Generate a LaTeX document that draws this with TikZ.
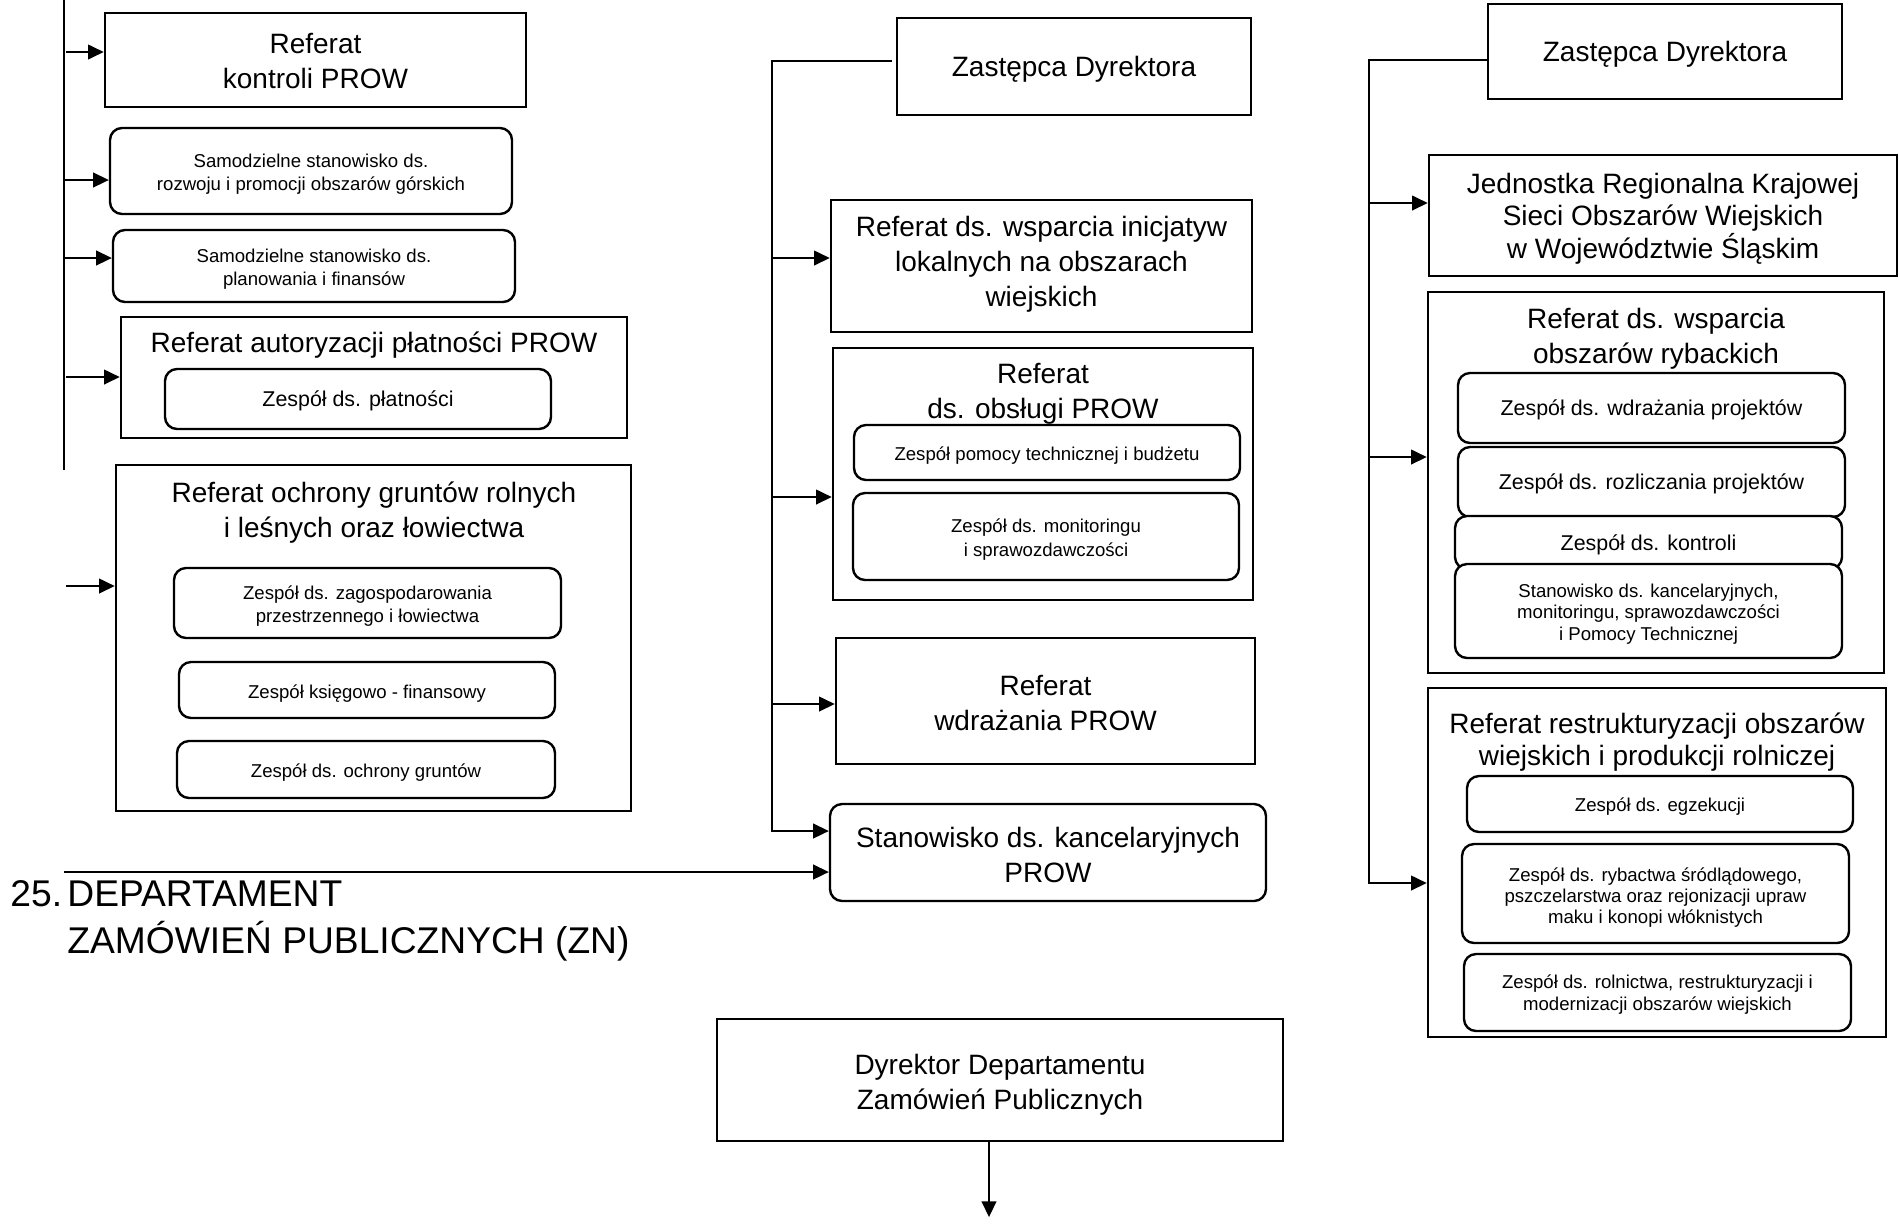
\documentclass[tikz,border=0pt]{standalone}
\usepackage{fontspec}
\setmainfont{Liberation Sans}
\usetikzlibrary{arrows.meta}
\newcommand\szB{\fontsize{14}{17.5}\selectfont}
\newcommand\szJ{\fontsize{14}{16.2}\selectfont}
\newcommand\szS{\fontsize{9.3}{11.6}\selectfont}
\newcommand\szR{\fontsize{9.3}{10.7}\selectfont}
\newcommand\szM{\fontsize{10.7}{13}\selectfont}
\newcommand\szH{\fontsize{18.6}{23.5}\selectfont}
% \bx{name}{x1}{y1}{x2}{y2}{box style}{font}{text shift down, px}{text}
\newcommand\bx[9]{%
  \node[#6, minimum width={(#4-#2)*0.5pt}, minimum height={(#5-#3)*0.5pt}] (#1) at ({(#2+#4)/2},{(#3+#5)/2}) {};
  \node[font=#7, align=center, inner sep=0pt] (#1-t) at ([yshift={-(#8)*0.5pt}]#1.center) {#9};}
\tikzset{
  sq/.style={draw, line width=1.3pt, rectangle, inner sep=0pt, fill=white},
  rd/.style={draw, line width=1.2pt, rounded corners=6pt, inner sep=0pt, fill=white},
  ttl/.style={align=center, inner sep=0pt, font=\szB},
  ln/.style={line width=0.6pt},
  arr/.style={line width=0.6pt, -{Triangle[length=7.8pt,width=7.4pt]}}
}
\begin{document}
\begin{tikzpicture}[x=0.5pt,y=-0.5pt]
\useasboundingbox (0,0) rectangle (1899,1223);

% ---------- left column ----------
\bx{kon}{105}{13}{526}{107}{sq}{\szB}{1}{Referat\\kontroli PROW}
\bx{sam1}{110}{128}{512}{214}{rd}{\szS}{3}{Samodzielne stanowisko ds.\\rozwoju i promocji obszarów górskich}
\bx{sam2}{113}{230}{515}{302}{rd}{\szS}{3}{Samodzielne stanowisko ds.\\planowania i finansów}
\bx{aut}{121}{317}{627}{438}{sq}{\szB}{0}{}
\node[ttl] (autT) at (374,345) {Referat autoryzacji płatności PROW};
\bx{pla}{165}{369}{551}{429}{rd}{\szM}{2}{Zespół ds. płatności}
\bx{och}{116}{465}{631}{811}{sq}{\szB}{0}{}
\node[ttl] (ochT) at (374,513) {Referat ochrony gruntów rolnych\\i leśnych oraz łowiectwa};
\bx{zag}{174}{568}{561}{638}{rd}{\szS}{3}{Zespół ds. zagospodarowania\\przestrzennego i łowiectwa}
\bx{ksi}{179}{662}{555}{718}{rd}{\szS}{4}{Zespół księgowo - finansowy}
\bx{ogr}{177}{741}{555}{798}{rd}{\szS}{3}{Zespół ds. ochrony gruntów}

% ---------- middle column ----------
\bx{zm}{897}{18}{1251}{115}{sq}{\szB}{3}{Zastępca Dyrektora}
\bx{ini}{831}{200}{1252}{332}{sq}{\szB}{-2}{Referat ds. wsparcia inicjatyw\\lokalnych na obszarach\\wiejskich}
\bx{obs}{833}{348}{1253}{600}{sq}{\szB}{0}{}
\node[ttl] (obsT) at (1043,394) {Referat\\ds. obsługi PROW};
\bx{pom}{854}{425}{1240}{480}{rd}{\szS}{3}{Zespół pomocy technicznej i budżetu}
\bx{mon}{853}{493}{1239}{580}{rd}{\szS}{3}{Zespół ds. monitoringu\\i sprawozdawczości}
\bx{wdr}{836}{638}{1255}{764}{sq}{\szB}{2}{Referat\\wdrażania PROW}
\bx{stk}{830}{804}{1266}{901}{rd}{\szB}{2}{Stanowisko ds. kancelaryjnych\\PROW}

% ---------- right column ----------
\bx{zr}{1488}{4}{1842}{99}{sq}{\szB}{3}{Zastępca Dyrektora}
\bx{jed}{1429}{155}{1897}{276}{sq}{\szJ}{3}{Jednostka Regionalna Krajowej\\Sieci Obszarów Wiejskich\\w Województwie Śląskim}
\bx{ryb}{1428}{292}{1884}{673}{sq}{\szB}{0}{}
\node[ttl] (rybT) at (1656,339) {Referat ds. wsparcia\\obszarów rybackich};
\bx{wpr}{1458}{373}{1845}{443}{rd}{\szM}{2}{Zespół ds. wdrażania projektów}
\bx{roz}{1458}{447}{1845}{517}{rd}{\szM}{2}{Zespół ds. rozliczania projektów}
\bx{kro}{1455}{516}{1842}{569}{rd}{\szM}{2}{Zespół ds. kontroli}
\bx{skm}{1455}{564}{1842}{658}{rd}{\szR}{3}{Stanowisko ds. kancelaryjnych,\\monitoringu, sprawozdawczości\\i Pomocy Technicznej}
\bx{res}{1428}{688}{1886}{1037}{sq}{\szB}{0}{}
\node[ttl,font=\szJ] (resT) at (1657,742) {Referat restrukturyzacji obszarów\\wiejskich i produkcji rolniczej};
\bx{egz}{1467}{776}{1853}{832}{rd}{\szS}{3}{Zespół ds. egzekucji}
\bx{ryba}{1462}{844}{1849}{943}{rd}{\szR}{4}{Zespół ds. rybactwa śródlądowego,\\pszczelarstwa oraz rejonizacji upraw\\maku i konopi włóknistych}
\bx{rol}{1464}{954}{1851}{1031}{rd}{\szR}{2}{Zespół ds. rolnictwa, restrukturyzacji i\\modernizacji obszarów wiejskich}

% ---------- bottom ----------
\bx{dyr}{717}{1019}{1283}{1141}{sq}{\szB}{5}{Dyrektor Departamentu\\Zamówień Publicznych}
\node[font=\szH, anchor=base west, inner sep=0pt] (num) at (10,906) {25.};
\node[font=\szH, anchor=base west, inner sep=0pt] (dep1) at (67,906) {DEPARTAMENT};
\node[font=\szH, anchor=base west, inner sep=0pt] (dep2) at (67,953) {ZAMÓWIEŃ PUBLICZNYCH (ZN)};

% ---------- connectors: left ----------
\coordinate (L0) at (64,0);
\coordinate (L1) at (64,470);
\draw[ln] (L0) -- (L1);
\coordinate (a1) at (66,52);
\coordinate (a2) at (64,180);
\coordinate (a3) at (64,258);
\coordinate (a4) at (66,377);
\coordinate (a5) at (66,586);
\draw[arr] (a1) -- (a1 -| kon.west);
\draw[arr] (a2) -- (a2 -| sam1.west);
\draw[arr] (a3) -- (a3 -| sam2.west);
\draw[arr] (a4) -- (a4 -| aut.west);
\draw[arr] (a5) -- (a5 -| och.west);
\coordinate (h0) at (64,872);
\draw[arr] (h0) -- (h0 -| stk.west);

% ---------- connectors: middle ----------
\coordinate (m0) at (772,61);
\coordinate (m1) at (772,258);
\coordinate (m2) at (772,497);
\coordinate (m3) at (772,704);
\coordinate (m4) at (772,831);
\draw[arr] ([xshift=-2pt]m0 -| zm.west) -- (m0) -- (m4) -- (m4 -| stk.west);
\draw[arr] (m1) -- (m1 -| ini.west);
\draw[arr] (m2) -- (m2 -| obs.west);
\draw[arr] (m3) -- (m3 -| wdr.west);

% ---------- connectors: right ----------
\coordinate (r0) at (1369,60);
\coordinate (r1) at (1369,203);
\coordinate (r2) at (1369,457);
\coordinate (r3) at (1369,883);
\draw[arr] (r0 -| zr.west) -- (r0) -- (r3) -- (r3 -| res.west);
\draw[arr] (r1) -- (r1 -| jed.west);
\draw[arr] (r2) -- (r2 -| ryb.west);

% ---------- bottom arrow ----------
\coordinate (b1) at (989,1217);
\draw[arr] (b1 |- dyr.south) -- (b1);
\end{tikzpicture}
\end{document}
